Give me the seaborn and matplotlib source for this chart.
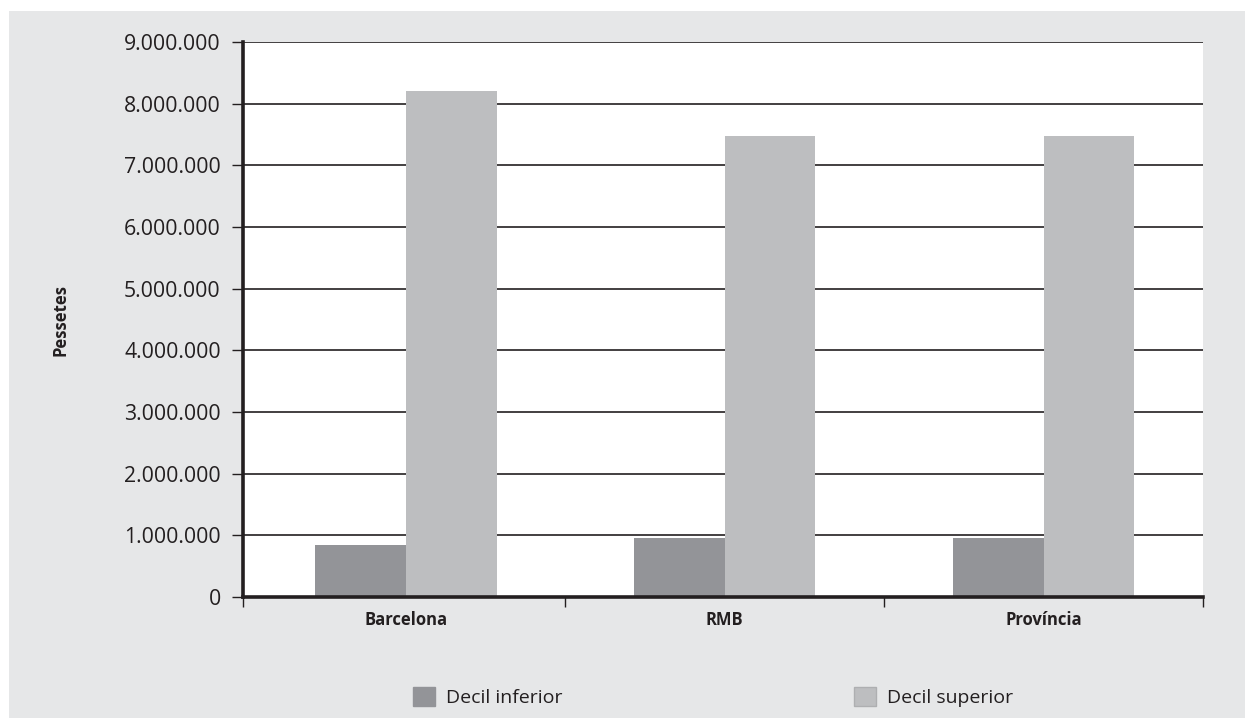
import matplotlib
matplotlib.use("Agg")
import matplotlib.pyplot as plt
import matplotlib.ticker as mtick
from matplotlib.patches import Rectangle
import numpy as np
import pandas as pd
import seaborn as sns

# ── Data ─────────────────────────────────────────────────────
regions = ["Barcelona", "RMB", "Província"]
series = ["Decil inferior", "Decil superior"]
decil_inferior = [850000, 950000, 950000]
decil_superior = [8200000, 7480000, 7480000]
y_ticks = list(range(0, 9000001, 1000000))

colors = ["#939498", "#BDBEC0"]
bg_grey = "#E6E7E8"
ink = "#231F20"

df = pd.DataFrame({
    "region": regions * 2,
    "decil": [series[0]] * 3 + [series[1]] * 3,
    "value": decil_inferior + decil_superior,
})

sns.set_theme(style="white")
plt.rcParams["font.family"] = ["Open Sans", "DejaVu Sans"]

fig = plt.figure(figsize=(12.45, 7.18), dpi=100, facecolor="white")
# grey panel behind everything
fig.patches.append(Rectangle((9 / 1245, 0), 1 - 9 / 1245, 1 - 11 / 718,
                             transform=fig.transFigure, facecolor=bg_grey,
                             edgecolor="none", zorder=-10))

ax = fig.add_axes([243 / 1245, 121 / 718, 960 / 1245, 555 / 718])
ax.set_facecolor("white")

sns.barplot(data=df, x="region", y="value", hue="decil", palette=colors,
            width=0.57, saturation=1, linewidth=0, ax=ax, legend=False)

ax.set_ylim(0, 9000000)
ax.set_xlim(-0.51, 2.5)
ax.set_yticks(y_ticks)
ax.yaxis.set_major_formatter(
    mtick.FuncFormatter(lambda v, _: f"{int(v):,}".replace(",", ".")))
ax.tick_params(axis="y", labelsize=15.3, colors=ink, length=8,
               width=1, direction="out", left=True, pad=8)

# gridlines
ax.grid(axis="y", color=ink, linewidth=1.2)
ax.set_axisbelow(True)

# x axis: labels centered, ticks at category boundaries
ax.set_xticks(range(len(regions)))
ax.set_xticklabels(regions, fontsize=12, fontweight="bold", color=ink)
ax.tick_params(axis="x", length=0, pad=10)
ax.set_xticks([-0.51, 0.5, 1.5, 2.5], minor=True)
ax.tick_params(axis="x", which="minor", length=7, width=1,
               color=ink, direction="out", bottom=True)

ax.set_xlabel("")
ax.set_ylabel("Pessetes", fontsize=12, fontweight="bold",
              color=ink, labelpad=39)

for side in ["top", "right"]:
    ax.spines[side].set_visible(False)
for side in ["left", "bottom"]:
    ax.spines[side].set_linewidth(2.6)
    ax.spines[side].set_color(ink)

# legend
handles = [Rectangle((0, 0), 1, 1, facecolor=colors[0], edgecolor=colors[0]),
           Rectangle((0, 0), 1, 1, facecolor=colors[1], edgecolor="#AEAFB1")]
fig.legend(handles, series, loc="center", bbox_to_anchor=(0.573, 0.029),
           ncol=2, frameon=False, fontsize=14, handlelength=1.1,
           handleheight=1.1, handletextpad=0.6, columnspacing=15.0,
           labelcolor=ink)

fig.savefig("out.png", dpi=100, facecolor="white")
